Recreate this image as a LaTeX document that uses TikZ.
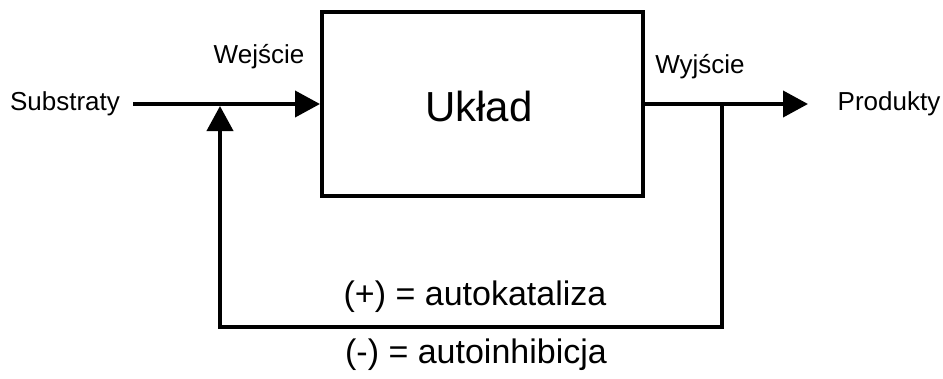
\documentclass[tikz,border=0pt]{standalone}
\usepackage{fontspec}
\setmainfont{Liberation Sans}
\usetikzlibrary{arrows.meta}

\tikzset{
  label/.style={inner sep=0pt,font=\fontsize{26}{30}\selectfont},
  flow/.style={line width=4pt,-{Triangle[length=25pt,width=26pt]}},
  wire/.style={line width=4pt}
}

\begin{document}
\begin{tikzpicture}[x=1pt,y=-1pt]
	\useasboundingbox (0,0) rectangle (943,378);

	\node[draw=black,line width=4pt,minimum width=321pt,minimum height=184pt,inner sep=0pt] (uklad) at (482.5,104) {};
	\node[inner sep=0pt,font=\fontsize{42}{48}\selectfont] (ukladtxt) at (479,106) {Układ};

	\node[label] (substraty) at (65,104)  {Substraty};
	\node[label] (wejscie)   at (259,57)  {Wejście};
	\node[label] (wyjscie)   at (700,67)  {Wyjście};
	\node[label] (produkty)  at (889,104) {Produkty};

	\node[inner sep=0pt,font=\fontsize{34}{38}\selectfont] (plus)  at (475,297) {(+) = autokataliza};
	\node[inner sep=0pt,font=\fontsize{34}{38}\selectfont] (minus) at (476,355) {(-) = autoinhibicja};

	\coordinate (start) at (133,104);
	\coordinate (wej)   at (220,106);
	\coordinate (wyj)   at (722,104);
	\coordinate (bl)    at (220,327);
	\coordinate (br)    at (722,327);
	\coordinate (end)   at (808,104);

	\path[flow] (start) edge (uklad.west);
	\path[flow] (uklad.east) edge (end);
	\draw[flow,line join=miter] (wyj) -- (br) -- (bl) -- (wej);
\end{tikzpicture}
\end{document}
